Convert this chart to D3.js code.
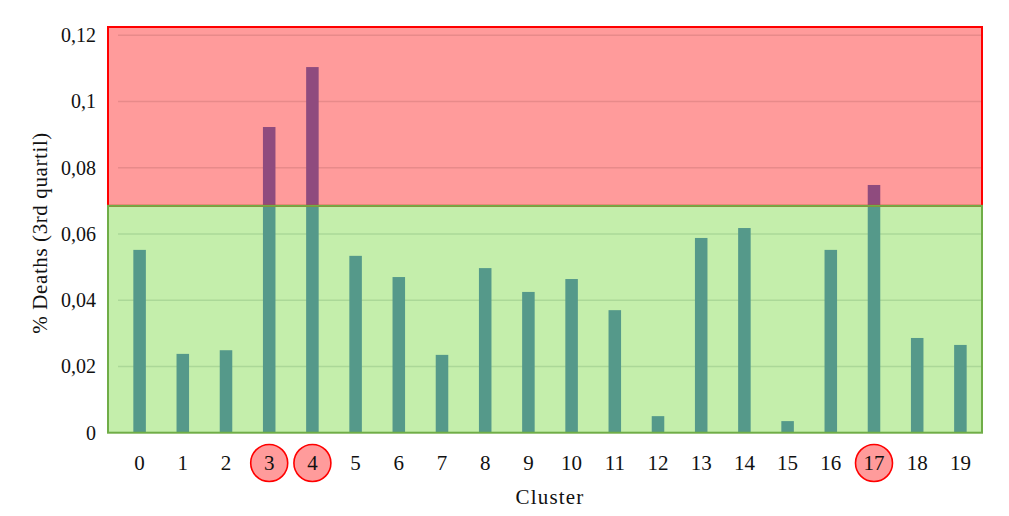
<!DOCTYPE html>
<html>
<head>
<meta charset="utf-8">
<script src="https://cdn.jsdelivr.net/npm/d3@7/dist/d3.min.js"></script>
<style>
  html, body { margin: 0; padding: 0; background: #fff; }
  svg { display: block; font-family: "Liberation Serif", "DejaVu Serif", serif; }
</style>
</head>
<body>
<div id="chart"></div>
<script>
// Cluster death rates (3rd quartile)
const clusters = d3.range(20).map(String)
const deaths = [0.0552, 0.0238, 0.0249, 0.0923, 0.1104, 0.0534, 0.0470, 0.0235, 0.0497, 0.0425,
                0.0464, 0.0370, 0.0050, 0.0588, 0.0618, 0.0035, 0.0552, 0.0748, 0.0286, 0.0265]
const yTicks = [0, 0.02, 0.04, 0.06, 0.08, 0.1, 0.12]
const threshold = 0.0685
const yMax = 0.1225

const W = 1009, H = 516
const plot = { left: 108, right: 982, top: 27, bottom: 432.7 }

const svg = d3.select("#chart").append("svg")
  .attr("width", W).attr("height", H)

const x = d3.scaleBand()
  .domain(clusters)
  .range([118, plot.right])
  .paddingInner(0.71)
  .paddingOuter(0.355)

const y = d3.scaleLinear()
  .domain([0, yMax])
  .range([plot.bottom, plot.top])

const fmt = d => String(d).replace(".", ",")

// Background zones
svg.append("rect")
  .attr("x", plot.left).attr("y", y(yMax))
  .attr("width", plot.right - plot.left).attr("height", y(threshold) - y(yMax))
  .attr("fill", "#ff9b9b")

svg.append("rect")
  .attr("x", plot.left).attr("y", y(threshold))
  .attr("width", plot.right - plot.left).attr("height", y(0) - y(threshold))
  .attr("fill", "#c4eeab")

// Gridlines
svg.append("g")
  .selectAll("line")
  .data(yTicks.filter(d => d > 0))
  .join("line")
  .attr("x1", 118).attr("x2", plot.right)
  .attr("y1", d => y(d)).attr("y2", d => y(d))
  .attr("stroke", d => d > threshold ? "#e88a8a" : "#abd898")
  .attr("stroke-width", 1.5)

// Bars: teal below threshold, purple above
const bars = svg.append("g")
bars.selectAll(".low")
  .data(deaths)
  .join("rect")
  .attr("class", "low")
  .attr("x", (d, i) => x(clusters[i]))
  .attr("width", x.bandwidth())
  .attr("y", d => y(Math.min(d, threshold)))
  .attr("height", d => y(0) - y(Math.min(d, threshold)))
  .attr("fill", "#55998a")

bars.selectAll(".high")
  .data(deaths.map((d, i) => ({ d, i })).filter(o => o.d > threshold))
  .join("rect")
  .attr("class", "high")
  .attr("x", o => x(clusters[o.i]))
  .attr("width", x.bandwidth())
  .attr("y", o => y(o.d))
  .attr("height", o => y(threshold) - y(o.d))
  .attr("fill", "#8f4b7e")

// Zone borders
svg.append("rect")
  .attr("x", plot.left).attr("y", y(yMax))
  .attr("width", plot.right - plot.left).attr("height", y(threshold) - y(yMax))
  .attr("fill", "none").attr("stroke", "#ff0000").attr("stroke-width", 2)

svg.append("rect")
  .attr("x", plot.left).attr("y", y(threshold))
  .attr("width", plot.right - plot.left).attr("height", y(0) - y(threshold))
  .attr("fill", "none").attr("stroke", "#70ad47").attr("stroke-width", 2)

// Y axis
const yAxis = svg.append("g")
  .attr("transform", `translate(${plot.left},0)`)
  .call(d3.axisLeft(y).tickValues(yTicks).tickSize(0).tickPadding(12).tickFormat(fmt))
yAxis.select(".domain").remove()
yAxis.selectAll("text")
  .attr("font-family", "Liberation Serif, serif")
  .attr("font-size", 20)
  .attr("fill", "#111")

// Highlight circles behind x labels for clusters above threshold
const labelY = 463
svg.append("g")
  .selectAll("circle")
  .data(clusters.filter((c, i) => deaths[i] > threshold))
  .join("circle")
  .attr("cx", c => x(c) + x.bandwidth() / 2)
  .attr("cy", labelY)
  .attr("r", 18.5)
  .attr("fill", "#ff9b9b")
  .attr("stroke", "#ff0000")
  .attr("stroke-width", 1.6)

// X axis
const xAxis = svg.append("g")
  .attr("transform", `translate(0,${plot.bottom})`)
  .call(d3.axisBottom(x).tickSize(0).tickPadding(0))
xAxis.select(".domain").remove()
xAxis.selectAll("text")
  .attr("y", labelY - plot.bottom)
  .attr("dy", "0.35em")
  .attr("font-family", "Liberation Serif, serif")
  .attr("font-size", 21)
  .attr("fill", "#111")

// Axis titles
svg.append("text")
  .attr("x", (plot.left + plot.right) / 2 + 5)
  .attr("y", 504)
  .attr("text-anchor", "middle")
  .attr("font-size", 21)
  .attr("letter-spacing", 1.2)
  .attr("fill", "#111")
  .text("Cluster")

svg.append("text")
  .attr("transform", `translate(47,${(plot.top + plot.bottom) / 2 + 3}) rotate(-90)`)
  .attr("text-anchor", "middle")
  .attr("font-size", 21)
  .attr("letter-spacing", 0.6)
  .attr("fill", "#111")
  .text("% Deaths (3rd quartil)")
</script>
</body>
</html>
